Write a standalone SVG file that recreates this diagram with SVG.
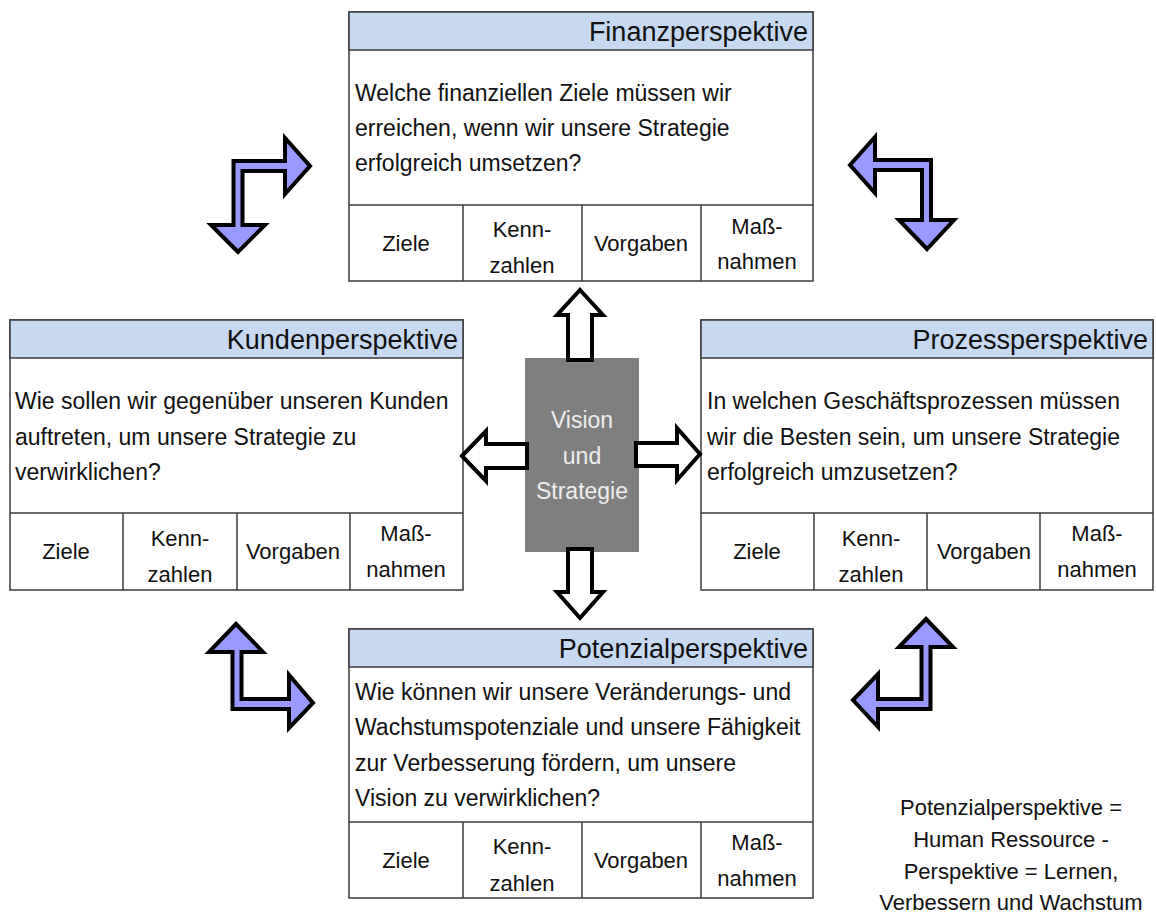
<svg xmlns="http://www.w3.org/2000/svg" width="1156" height="915" viewBox="0 0 1156 915">
<style>
.box{fill:#fff;stroke:#3a3a3a;stroke-width:1.5}
.hdr{fill:#c6d9f1;stroke:#3a3a3a;stroke-width:1.5}
.ln{stroke:#3a3a3a;stroke-width:1.5}
text{font-family:"Liberation Sans",Arial,sans-serif;fill:#111}
.ttl{font-size:27px;text-anchor:end}
.body{font-size:23px}
.cell{font-size:22px;text-anchor:middle}
.note{font-size:22px;text-anchor:middle}
.vis{font-size:23px;text-anchor:middle;fill:#eeeeee}
.bend{fill:#9999ff;stroke:#000;stroke-width:4;stroke-linejoin:miter}
.blk{fill:#fff;stroke:#000;stroke-width:4;stroke-linejoin:miter}
</style>
<rect width="1156" height="915" fill="#fff"/>

<g id="finanz">
<rect class="box" x="349" y="12" width="464" height="269"/>
<rect class="hdr" x="349" y="12" width="464" height="38"/>
<text class="ttl" x="808" y="41">Finanzperspektive</text>
<text class="body" x="355" y="101">Welche finanziellen Ziele müssen wir</text>
<text class="body" x="355" y="136">erreichen, wenn wir unsere Strategie</text>
<text class="body" x="355" y="171">erfolgreich umsetzen?</text>
<line class="ln" x1="349" y1="205" x2="813" y2="205"/>
<line class="ln" x1="463" y1="205" x2="463" y2="281"/>
<line class="ln" x1="582" y1="205" x2="582" y2="281"/>
<line class="ln" x1="701" y1="205" x2="701" y2="281"/>
<text class="cell" x="406" y="251">Ziele</text>
<text class="cell" x="522" y="237">Kenn-</text>
<text class="cell" x="522" y="273">zahlen</text>
<text class="cell" x="641" y="251">Vorgaben</text>
<text class="cell" x="757" y="234">Maß-</text>
<text class="cell" x="757" y="269">nahmen</text>
</g>

<g id="kunden">
<rect class="box" x="10" y="320" width="453" height="270"/>
<rect class="hdr" x="10" y="320" width="453" height="38"/>
<text class="ttl" x="458" y="349">Kundenperspektive</text>
<text class="body" x="15" y="409">Wie sollen wir gegenüber unseren Kunden</text>
<text class="body" x="15" y="445">auftreten, um unsere Strategie zu</text>
<text class="body" x="15" y="480">verwirklichen?</text>
<line class="ln" x1="10" y1="513" x2="463" y2="513"/>
<line class="ln" x1="123" y1="513" x2="123" y2="590"/>
<line class="ln" x1="237" y1="513" x2="237" y2="590"/>
<line class="ln" x1="350" y1="513" x2="350" y2="590"/>
<text class="cell" x="66" y="559">Ziele</text>
<text class="cell" x="180" y="546">Kenn-</text>
<text class="cell" x="180" y="582">zahlen</text>
<text class="cell" x="293" y="559">Vorgaben</text>
<text class="cell" x="406" y="541">Maß-</text>
<text class="cell" x="406" y="577">nahmen</text>
</g>

<g id="prozess">
<rect class="box" x="701" y="320" width="452" height="270"/>
<rect class="hdr" x="701" y="320" width="452" height="38"/>
<text class="ttl" x="1148" y="349">Prozessperspektive</text>
<text class="body" x="707" y="409">In welchen Geschäftsprozessen müssen</text>
<text class="body" x="707" y="445">wir die Besten sein, um unsere Strategie</text>
<text class="body" x="707" y="480">erfolgreich umzusetzen?</text>
<line class="ln" x1="701" y1="513" x2="1153" y2="513"/>
<line class="ln" x1="814" y1="513" x2="814" y2="590"/>
<line class="ln" x1="927" y1="513" x2="927" y2="590"/>
<line class="ln" x1="1040" y1="513" x2="1040" y2="590"/>
<text class="cell" x="757" y="559">Ziele</text>
<text class="cell" x="871" y="546">Kenn-</text>
<text class="cell" x="871" y="582">zahlen</text>
<text class="cell" x="984" y="559">Vorgaben</text>
<text class="cell" x="1097" y="541">Maß-</text>
<text class="cell" x="1097" y="577">nahmen</text>
</g>

<g id="potenzial">
<rect class="box" x="349" y="629" width="464" height="269"/>
<rect class="hdr" x="349" y="629" width="464" height="38"/>
<text class="ttl" x="808" y="658">Potenzialperspektive</text>
<text class="body" x="355" y="700">Wie können wir unsere Veränderungs- und</text>
<text class="body" x="355" y="735">Wachstumspotenziale und unsere Fähigkeit</text>
<text class="body" x="355" y="771">zur Verbesserung fördern, um unsere</text>
<text class="body" x="355" y="806">Vision zu verwirklichen?</text>
<line class="ln" x1="349" y1="822" x2="813" y2="822"/>
<line class="ln" x1="463" y1="822" x2="463" y2="898"/>
<line class="ln" x1="582" y1="822" x2="582" y2="898"/>
<line class="ln" x1="701" y1="822" x2="701" y2="898"/>
<text class="cell" x="406" y="868">Ziele</text>
<text class="cell" x="522" y="854">Kenn-</text>
<text class="cell" x="522" y="891">zahlen</text>
<text class="cell" x="641" y="868">Vorgaben</text>
<text class="cell" x="757" y="850">Maß-</text>
<text class="cell" x="757" y="886">nahmen</text>
</g>

<g id="vision">
<rect x="525" y="358" width="114" height="194" fill="#7f7f7f"/>
<text class="vis" x="582" y="428">Vision</text>
<text class="vis" x="582" y="464">und</text>
<text class="vis" x="582" y="499">Strategie</text>
</g>

<g id="note">
<text class="note" x="1011" y="815">Potenzialperspektive =</text>
<text class="note" x="1011" y="847">Human Ressource -</text>
<text class="note" x="1011" y="879">Perspektive = Lernen,</text>
<text class="note" x="1011" y="910">Verbessern und Wachstum</text>
</g>

<g id="connectors">
<polygon class="blk" points="580,290 603,315 592,315 592,360 568,360 568,315 557,315"/>
<polygon class="blk" points="580,618 603,592 592,592 592,549 568,549 568,592 557,592"/>
<polygon class="blk" points="462,456 486,431 486,444 527,444 527,468 486,468 486,481"/>
<polygon class="blk" points="700,454 677,428 677,443 636,443 636,466 677,466 677,480"/>

<polygon class="bend" points="238,252 211,225 233.5,225 233.5,161 285,161 285,138 310,166 285,194 285,171 242.5,171 242.5,225 265,225"/>
<polygon class="bend" points="850,165 875,137 875,160 931,160 931,220 954,220 927,249 899,220 922,220 922,170 875,170 875,193"/>
<polygon class="bend" points="236,624 263,652 241.5,652 241.5,699 289,699 289,675 313,703 289,728 289,709 232.5,709 232.5,652 209,652"/>
<polygon class="bend" points="926,619 953,647 930.5,647 930.5,709 878,709 878,727 853,700 878,674 878,699 921.5,699 921.5,647 899,647"/>
</g>
</svg>
